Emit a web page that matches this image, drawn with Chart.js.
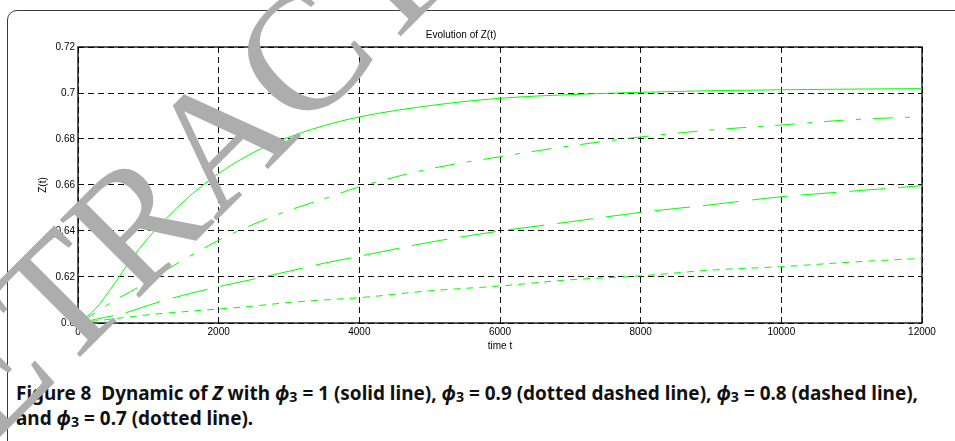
<!DOCTYPE html>
<html>
<head>
<meta charset="utf-8">
<script src="https://cdn.jsdelivr.net/npm/chart.js@4.4.0/dist/chart.umd.min.js"></script>
<style>
  html, body { margin:0; padding:0; background:#fff; }
  body { width:955px; height:441px; position:relative; overflow:hidden; }
  #frame { position:absolute; left:7px; top:10px; width:1000px; height:445px; border:1px solid #3a3a3a; border-radius:10px; }
  #wrap { position:absolute; left:0; top:0; width:955px; height:360px; }
  #caption { position:absolute; left:16px; top:380px; font-family:"Noto Sans", "DejaVu Sans", sans-serif;
    font-weight:bold; font-size:20px; line-height:25px; color:#111; white-space:nowrap; transform-origin:0 0; }
  #caption sub { font-size:0.75em; vertical-align:-0.15em; line-height:0; font-style:normal; }
  #mark { position:absolute; left:0; top:0; pointer-events:none; }
</style>
</head>
<body>
<div id="frame"></div>
<div id="wrap"><canvas id="zChart" width="955" height="360"></canvas></div>
<div id="caption"><span id="line1">Figure 8&nbsp; Dynamic of <i>Z</i> with <i>ϕ</i><sub>3</sub> = 1 (solid line), <i>ϕ</i><sub>3</sub> = 0.9 (dotted dashed line), <i>ϕ</i><sub>3</sub> = 0.8 (dashed line),</span><br>and <i>ϕ</i><sub>3</sub> = 0.7 (dotted line).</div>
<svg id="mark" width="955" height="441">
  <text x="-92" y="529" transform="rotate(-45 -92 529)" font-family="Liberation Serif" font-size="170" fill="#adadad">RETRACTED</text>
</svg>
<script>
// values
const timeT  = [0, 250, 500, 750, 1000, 1500, 2000, 2500, 3000, 3500, 4000, 5000, 6000, 7000, 8000, 9000, 10000, 11000, 12000];
const zPhi10 = [0.600, 0.6062, 0.6163, 0.6274, 0.6370, 0.6528, 0.6650, 0.6742, 0.6808, 0.6858, 0.6896, 0.6945, 0.6977, 0.6993, 0.7003, 0.7010, 0.7014, 0.7017, 0.7019];
const zPhi09 = [0.600, 0.6045, 0.6095, 0.6137, 0.6182, 0.6275, 0.6360, 0.6430, 0.6490, 0.6540, 0.6592, 0.6670, 0.6723, 0.6770, 0.6809, 0.6839, 0.6861, 0.6884, 0.6897];
const zPhi08 = [0.600, 0.6016, 0.6032, 0.6051, 0.6077, 0.6121, 0.6158, 0.6191, 0.6225, 0.6260, 0.6290, 0.6351, 0.6400, 0.6440, 0.6481, 0.6514, 0.6549, 0.6573, 0.6597];
const zPhi07 = [0.600, 0.6009, 0.6018, 0.6027, 0.6036, 0.6049, 0.6061, 0.6074, 0.6089, 0.6100, 0.6110, 0.6140, 0.6161, 0.6188, 0.6205, 0.6230, 0.6245, 0.6265, 0.6281];
const xTicks = [0, 2000, 4000, 6000, 8000, 10000, 12000];
const yTicks = [0.6, 0.62, 0.64, 0.66, 0.68, 0.7, 0.72];

const sans = '"Liberation Sans", Arial, sans-serif';

// squeeze the caption so the first line ends where it does in the figure
var cap = document.getElementById('caption');
var w1 = document.getElementById('line1').getBoundingClientRect().width;
cap.style.transform = 'scaleX(' + (902 / w1) + ')';

function pts(ys) {
  return timeT.map(function (t, i) { return {x: t, y: ys[i]}; });
}

function line(ys, dash) {
  return {
    data: pts(ys),
    borderColor: '#00ff00',
    borderWidth: 1,
    borderDash: dash,
    pointRadius: 0,
    fill: false,
    cubicInterpolationMode: 'monotone'
  };
}

// box round the plot area
const boxPlugin = {
  id: 'box',
  beforeDatasetsDraw(chart) {
    const a = chart.chartArea, ctx = chart.ctx;
    ctx.save();
    ctx.strokeStyle = '#000';
    ctx.lineWidth = 1.3;
    ctx.strokeRect(a.left, a.top, a.right - a.left, a.bottom - a.top);
    ctx.restore();
  }
};

new Chart(document.getElementById('zChart'), {
  type: 'line',
  data: {
    datasets: [
      line(zPhi10, []),
      line(zPhi09, [20, 12, 5, 12]),
      line(zPhi08, [36, 13]),
      line(zPhi07, [7, 6])
    ]
  },
  options: {
    responsive: false,
    animation: false,
    layout: { padding: { left: 0, right: 33, top: 0, bottom: 0 } },
    plugins: {
      legend: { display: false },
      tooltip: { enabled: false },
      title: {
        display: true,
        text: 'Evolution of Z(t)',
        color: '#000',
        font: { family: sans, size: 10, weight: 'normal' },
        padding: { top: 29, bottom: 6 }
      }
    },
    scales: {
      x: {
        type: 'linear',
        min: 0, max: 12000,
        afterBuildTicks: function (ax) { ax.ticks = xTicks.map(function (v) { return {value: v}; }); },
        afterFit: function (s) { s.height = 37; },
        grid: { color: '#111', lineWidth: 1, drawTicks: false },
        border: { display: false, dash: [6, 4] },
        ticks: {
          color: '#000', padding: 3, maxRotation: 0, font: { family: sans, size: 10 },
          callback: function (v) { return String(v); }
        },
        title: { display: true, text: 'time t', color: '#000', font: { family: sans, size: 10 }, padding: { top: 0, bottom: 8 } }
      },
      y: {
        min: 0.6, max: 0.72,
        afterBuildTicks: function (ax) { ax.ticks = yTicks.map(function (v) { return {value: v}; }); },
        afterFit: function (s) { s.width = 78; },
        grid: { color: '#111', lineWidth: 1, drawTicks: false },
        border: { display: false, dash: [6, 4] },
        ticks: {
          color: '#000', padding: 3, font: { family: sans, size: 10 },
          callback: function (v) { return String(Math.round(v * 100) / 100); }
        },
        title: { display: true, text: 'Z(t)', color: '#000', font: { family: sans, size: 10 }, padding: { top: 37, bottom: 0 } }
      }
    }
  },
  plugins: [boxPlugin]
});
</script>
</body>
</html>
